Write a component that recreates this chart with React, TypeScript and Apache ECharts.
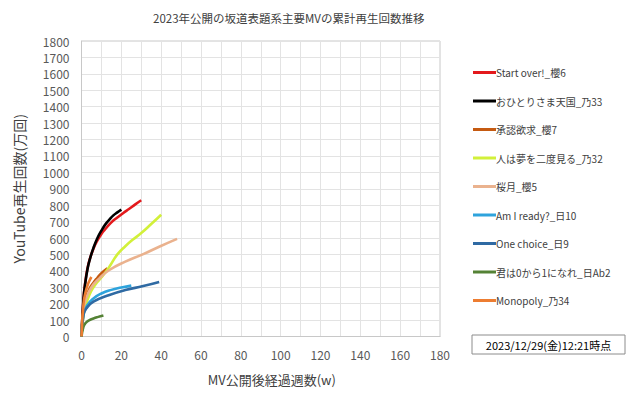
import React, { useEffect, useRef } from "react";
import * as echarts from "echarts";

const titleText = "2023年公開の坂道表題系主要MVの累計再生回数推移";
const xAxisName = "MV公開後経過週数(w)";
const yAxisName = "YouTube再生回数(万回)";
const stampText = "2023/12/29(金)12:21時点";

const seriesNames = [
  "Start over!_櫻6",
  "おひとりさま天国_乃33",
  "承認欲求_櫻7",
  "人は夢を二度見る_乃32",
  "桜月_櫻5",
  "Am I ready?_日10",
  "One choice_日9",
  "君は0から1になれ_日Ab2",
  "Monopoly_乃34",
];
const seriesColors = [
  "#e3191c",
  "#000000",
  "#c55a11",
  "#d2f03a",
  "#eab28e",
  "#2ea3dc",
  "#2f6aa3",
  "#548235",
  "#ed7d31",
];

const startOverWeeks = [0, 1, 2, 3, 4, 6, 8, 10, 12, 15, 18, 21, 24, 27, 30];
const startOverValues = [0, 230, 340, 415, 465, 535, 585, 625, 655, 695, 725, 752, 778, 805, 830];

const ohitoriWeeks = [0, 1, 2, 3, 4, 6, 8, 10, 12, 14, 16, 18, 20];
const ohitoriValues = [0, 225, 335, 410, 462, 540, 600, 645, 683, 712, 738, 756, 773];

const shouninWeeks = [0, 1, 2, 4, 6, 8, 10, 13];
const shouninValues = [0, 170, 230, 290, 328, 358, 385, 415];

const hitoWaWeeks = [0, 1, 2, 4, 6, 8, 11, 14, 18, 22, 26, 30, 35, 40];
const hitoWaValues = [0, 130, 185, 255, 300, 332, 375, 425, 500, 550, 592, 630, 685, 742];

const sakuraWeeks = [0, 1, 2, 5, 9, 14, 22, 31, 39, 48];
const sakuraValues = [0, 160, 220, 300, 354, 405, 456, 502, 547, 595];

const amIReadyWeeks = [0, 1, 3, 6, 10, 15, 20, 25];
const amIReadyValues = [0, 135, 192, 232, 262, 284, 298, 310];

const oneChoiceWeeks = [0, 1, 2.5, 6, 14, 22, 31, 39];
const oneChoiceValues = [0, 132, 172, 212, 253, 283, 307, 332];

const kimiWaWeeks = [0, 1, 2, 4, 6, 8, 11];
const kimiWaValues = [0, 60, 82, 100, 110, 118, 128];

const monopolyWeeks = [0, 1, 2, 3, 4, 5];
const monopolyValues = [0, 200, 268, 310, 340, 362];

const allWeeks = [
  startOverWeeks,
  ohitoriWeeks,
  shouninWeeks,
  hitoWaWeeks,
  sakuraWeeks,
  amIReadyWeeks,
  oneChoiceWeeks,
  kimiWaWeeks,
  monopolyWeeks,
];
const allValues = [
  startOverValues,
  ohitoriValues,
  shouninValues,
  hitoWaValues,
  sakuraValues,
  amIReadyValues,
  oneChoiceValues,
  kimiWaValues,
  monopolyValues,
];

const FONT = "'Noto Sans CJK JP', 'Noto Sans', sans-serif";

export default function App() {
  const ref = useRef<HTMLDivElement>(null);
  useEffect(() => {
    if (!ref.current) return;
    const chart = echarts.init(ref.current, undefined, { renderer: "svg" });
    const series = seriesNames.map((name, i) => ({
      name,
      type: "line",
      data: allWeeks[i].map((w, j) => [w, allValues[i][j]]),
      smooth: true,
      showSymbol: false,
      symbol: "none",
      lineStyle: { width: 2.6, color: seriesColors[i] },
      itemStyle: { color: seriesColors[i] },
    }));
    chart.setOption({
      animation: false,
      backgroundColor: "#ffffff",
      textStyle: { fontFamily: FONT },
      title: {
        text: titleText,
        left: 148,
        top: 7,
        textStyle: { fontSize: 11.5, fontWeight: "normal", color: "#404040", fontFamily: FONT },
      },
      legend: {
        orient: "vertical",
        left: 468,
        top: 60.5,
        icon: "rect",
        itemWidth: 23,
        itemHeight: 3,
        itemGap: 14.5,
        textStyle: { fontSize: 10, color: "#404040", lineHeight: 14, padding: [0, 0, 0, -5], fontFamily: FONT },
        data: seriesNames,
      },
      grid: {
        left: 81.5,
        top: 41,
        right: 200,
        bottom: 62.5,
        show: true,
        borderColor: "#c8c8c8",
        borderWidth: 1,
      },
      xAxis: {
        type: "value",
        min: 0,
        max: 180,
        interval: 20,
        name: xAxisName,
        nameLocation: "middle",
        nameGap: 36,
        nameTextStyle: { fontSize: 13, color: "#404040", padding: [0, 0, 0, 22] },
        axisLine: { show: true, lineStyle: { color: "#c8c8c8" } },
        axisTick: { show: false },
        axisLabel: { fontSize: 12, color: "#595959", margin: 12 },
        splitLine: { show: true, lineStyle: { color: "#e3e3e3" } },
        minorTick: { show: false, splitNumber: 2 },
        minorSplitLine: { show: true, lineStyle: { color: "#e3e3e3" } },
      },
      yAxis: {
        type: "value",
        min: 0,
        max: 1800,
        interval: 100,
        name: yAxisName,
        nameLocation: "middle",
        nameGap: 56,
        nameTextStyle: { fontSize: 14, color: "#404040" },
        axisLine: { show: true, lineStyle: { color: "#c8c8c8" } },
        axisTick: { show: false },
        axisLabel: { fontSize: 12, color: "#595959", margin: 12, formatter: (v: number) => String(v) },
        splitLine: { show: true, lineStyle: { color: "#e3e3e3" } },
      },
      graphic: [
        {
          type: "rect",
          shape: { x: 472, y: 335, width: 153, height: 19 },
          style: { fill: "#ffffff", stroke: "#8c8c8c", lineWidth: 1 },
        },
        {
          type: "text",
          x: 548.5,
          y: 344.5,
          style: {
            text: stampText,
            fontSize: 11,
            fontFamily: FONT,
            fill: "#000000",
            align: "center",
            verticalAlign: "middle",
          },
        },
      ],
      series,
    });
    return () => chart.dispose();
  }, []);
  return <div ref={ref} style={{ width: 640, height: 399, margin: -8 }} />;
}
